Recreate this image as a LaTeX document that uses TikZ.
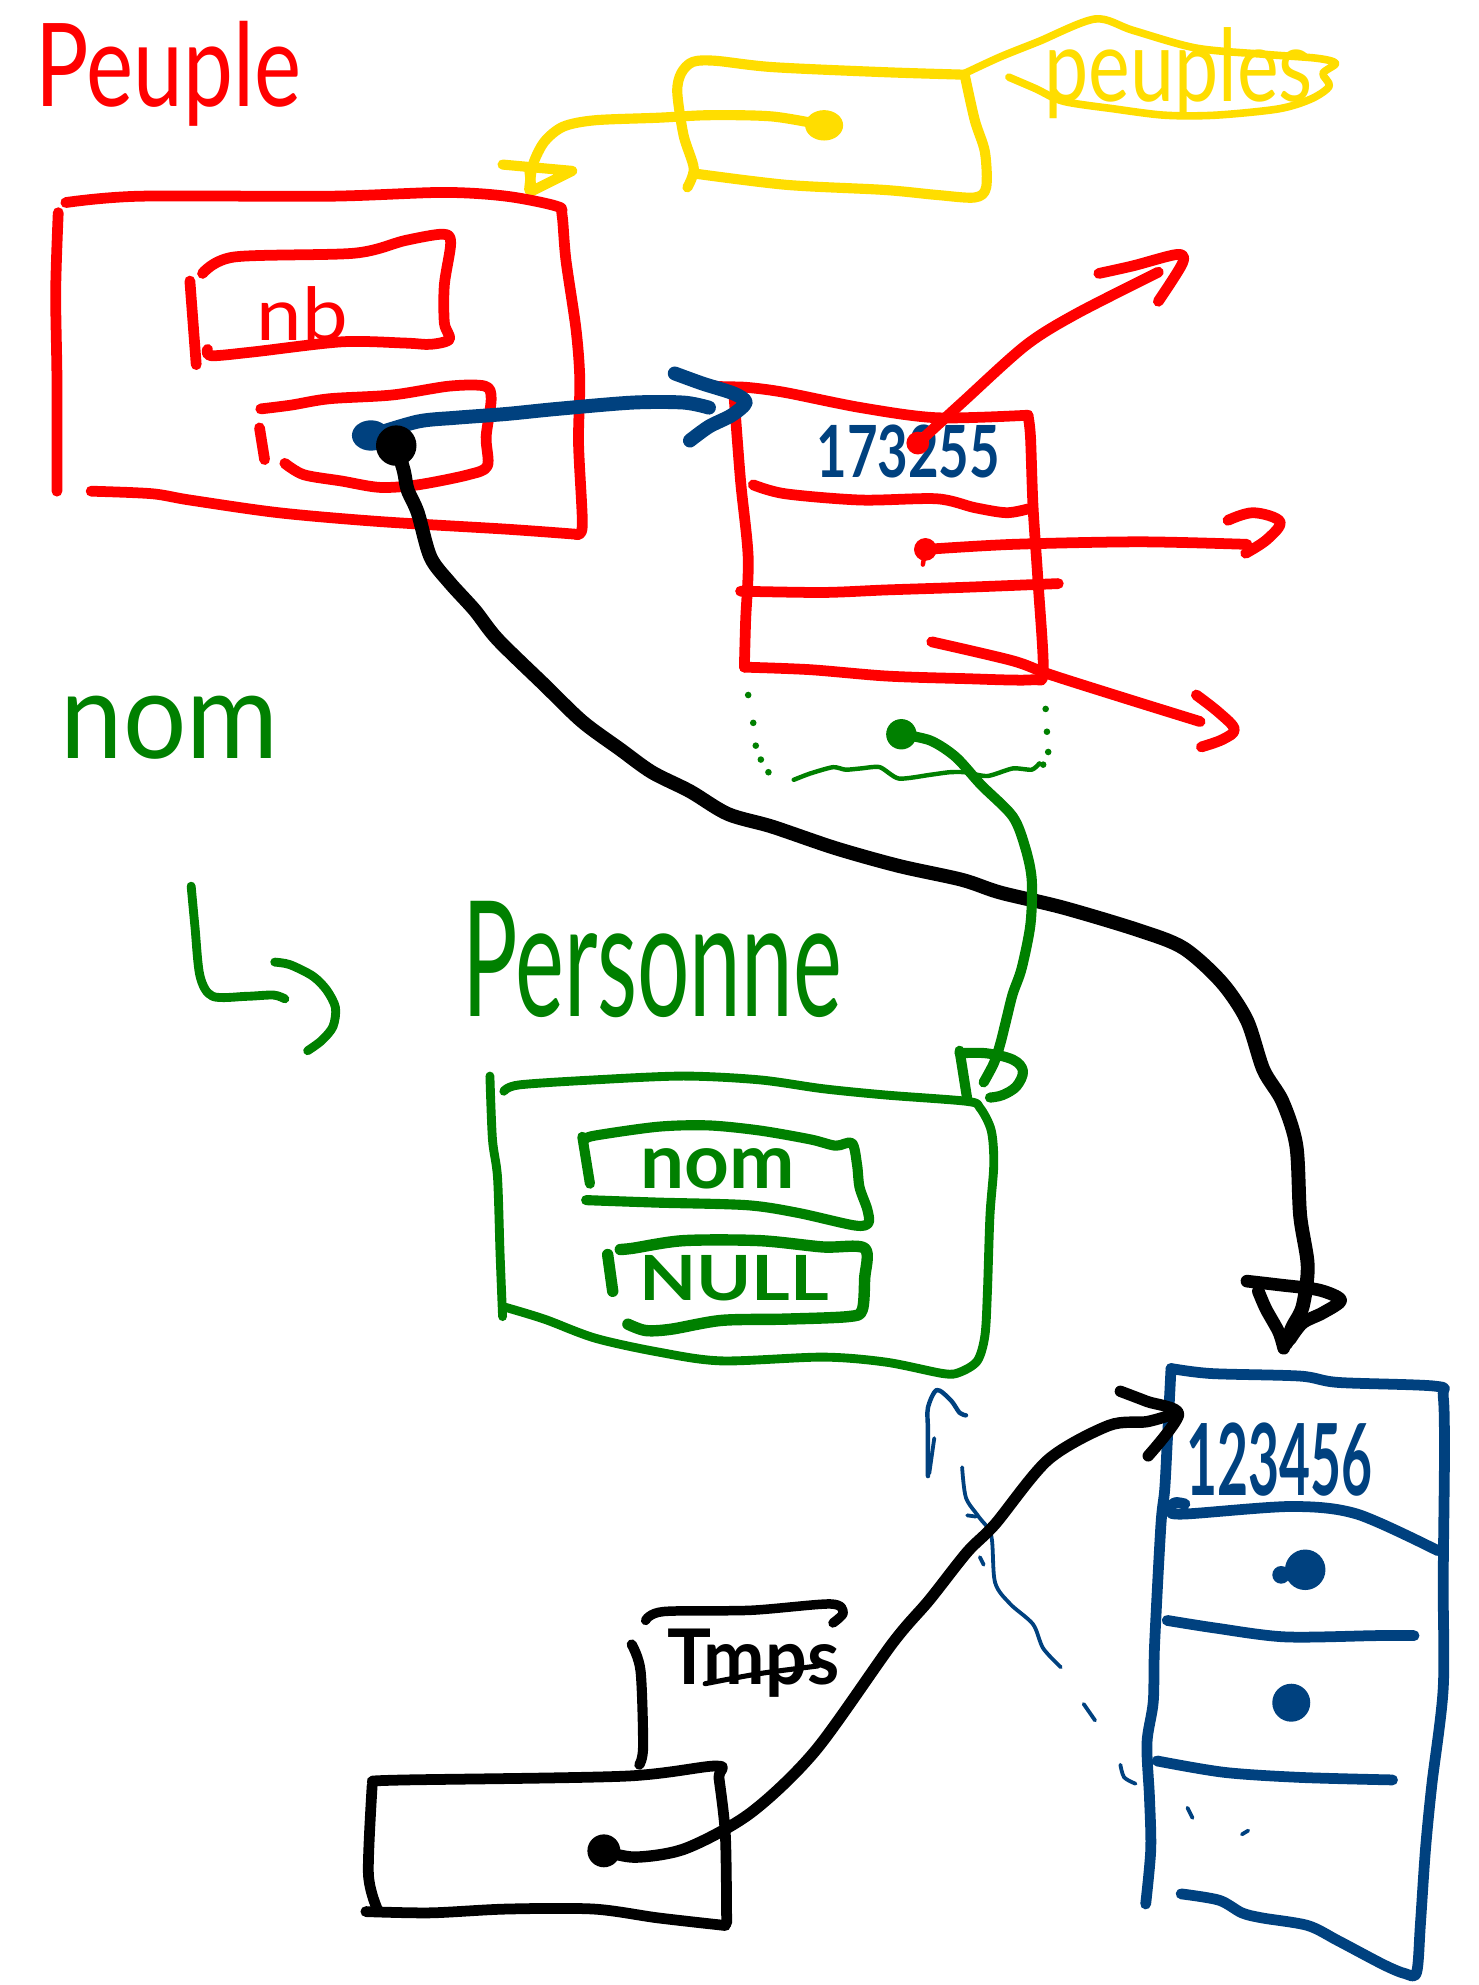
\documentclass[tikz,border=0pt]{standalone}
\usepackage{fontspec}
\setmainfont{Lato}
\usepackage{graphicx}
\definecolor{inkred}{HTML}{FF0000}
\definecolor{inkyellow}{HTML}{FFDD00}
\definecolor{inkgreen}{HTML}{008000}
\definecolor{inkblue}{HTML}{00417F}
\tikzset{
  pen/.style={line cap=round, line join=round},
  redpen/.style={pen, draw=inkred, line width=8.5pt},
  yellowpen/.style={pen, draw=inkyellow, line width=8pt},
  greenpen/.style={pen, draw=inkgreen, line width=7pt},
  bluepen/.style={pen, draw=inkblue, line width=8.5pt},
  thinblue/.style={pen, draw=inkblue, line width=3pt},
  blackpen/.style={pen, draw=black, line width=11pt},
  handword/.style={inner sep=0pt, outer sep=0pt, anchor=north west},
}
% scale a word into a given width and total height
\newcommand{\handfit}[3]{\resizebox*{#1}{#2}{#3}}
\begin{document}
\begin{tikzpicture}[x=1pt,y=-1pt]
\useasboundingbox[fill=white] (0,0) rectangle (1168,1568);

% ---------------- titles ----------------
\node[handword, text=inkred] (peupleTitle) at (28,17) {\handfit{210pt}{83pt}{Peuple}};
\node[handword, text=inkgreen] (nomTitle) at (48,550) {\handfit{172pt}{50pt}{nom}};
\node[handword, text=inkgreen] (personneTitle) at (365,712) {\handfit{300pt}{92pt}{Personne}};

% ---------------- yellow variable "peuples" ----------------
\draw[yellowpen] plot[smooth, tension=.5] coordinates {(543,148) (548,133) (540,107) (535,73) (538,58) (547,49) (565,48) (610,53) (698,57) (762,59)};
\draw[yellowpen] plot[smooth, tension=.5] coordinates {(762,59) (770,95) (778,120) (779,148) (770,156) (740,154) (698,150) (621,146) (548,137)};
\coordinate (yDot) at (651,99);
\fill[inkyellow] (yDot) ellipse (15 and 12);
\draw[yellowpen] plot[smooth, tension=.5] coordinates {(yDot) (610,92) (560,91) (520,93) (470,95) (445,100) (430,112) (421,130) (418,150)};
\draw[yellowpen] (397,130) -- (452,135) -- (420,151) -- (418,133);
% banner around the name
\draw[yellowpen, line width=6pt] plot[smooth, tension=.5] coordinates {(762,58) (790,45) (820,33) (865,15) (895,24) (945,38) (1000,43) (1040,46) (1055,50) (1045,58) (1050,68) (1036,78) (1010,86) (960,91) (920,91) (880,86) (840,80) (818,70) (797,61)};
\node[handword, text=inkyellow] (peuplesLabel) at (825,22) {\handfit{212pt}{72pt}{peuples}};

% ---------------- red structure Peuple ----------------
\draw[redpen] plot[smooth, tension=.5] coordinates {(45,388) (45,300) (44,230) (46,168)};
\draw[redpen] plot[smooth, tension=.5] coordinates {(52,160) (110,155) (260,155) (350,152) (400,155) (440,163) (444,170) (447,205) (455,260) (458,300) (457,350) (460,415) (455,422)};
\draw[redpen] plot[smooth, tension=.5] coordinates {(72,388) (120,390) (150,395) (220,405) (300,412) (400,418) (455,422)};
% field nb
\draw[redpen] (150,222) -- (155,288);
\draw[redpen] plot[smooth, tension=.5] coordinates {(160,216) (185,203) (280,200) (320,190) (350,185) (356,192) (351,225) (351,255) (355,268) (340,272) (320,271) (270,270) (200,278) (167,281) (164,276)};
\node[handword, text=inkred] (nbLabel) at (203,226) {\handfit{72pt}{43pt}{nb}};
% field pointing to the array
\draw[redpen] (205,338) -- (209,363);
\draw[redpen] plot[smooth, tension=.5] coordinates {(206,323) (230,320) (260,315) (310,312) (355,305) (383,305) (388,315) (384,345) (385,368) (370,375) (330,383) (300,385) (270,380) (240,375) (225,366)};

% ---------------- red array ----------------
\draw[redpen] plot[smooth, tension=.5] coordinates {(545,300) (565,305) (590,306) (620,310) (680,322) (740,330) (812,328)};
\draw[redpen] plot[smooth, tension=.5] coordinates {(812,328) (814,345) (816,400) (820,460) (824,530) (815,537) (760,536) (700,534) (640,529) (588,527)};
\draw[redpen] plot[smooth, tension=.5] coordinates {(580,315) (585,380) (591,440) (589,490) (588,527)};
\draw[redpen] plot[smooth, tension=.5] coordinates {(595,383) (620,390) (680,395) (740,394) (770,401) (795,405) (812,402)};
\draw[redpen] plot[smooth, tension=.5] coordinates {(585,467) (650,468) (700,466) (760,464) (836,461)};
\node[handword, text=inkblue] (addrA) at (645,336) {\handfit{145pt}{42pt}{\bfseries 173255}};
% outgoing pointers
\coordinate (rDotA) at (725,350);
\coordinate (rDotB) at (731,434);
\coordinate (rDotC) at (736,507);
\fill[inkred] (rDotA) circle (9);
\fill[inkred] (rDotB) circle (9);
\draw[redpen, line width=3.5pt] (rDotB) -- (729,446);
\draw[redpen] plot[smooth, tension=.5] coordinates {(rDotA) (760,318) (810,273) (850,248) (915,215)};
\draw[redpen] plot[smooth, tension=.5] coordinates {(868,216) (895,210) (930,201) (934,208) (915,238)};
\draw[redpen] plot[smooth, tension=.5] coordinates {(rDotB) (800,430) (900,428) (985,430)};
\draw[redpen] plot[smooth, tension=.6] coordinates {(970,411) (990,405) (1011,412) (1001,426) (984,437)};
\draw[redpen] plot[smooth, tension=.5] coordinates {(rDotC) (800,522) (830,533) (890,552) (948,570)};
\draw[redpen] plot[smooth, tension=.6] coordinates {(945,549) (963,563) (975,576) (966,584) (949,590)};

% ---------------- blue pointer into the red array ----------------
\coordinate (bDot) at (293,344);
\fill[inkblue] (bDot) ellipse (15 and 12);
\draw[bluepen, line width=11pt] plot[smooth, tension=.5] coordinates {(bDot) (330,333) (360,330) (400,327) (440,323) (500,318) (540,318) (560,322)};
\draw[bluepen, line width=11pt] plot[smooth, tension=.5] coordinates {(533,295) (555,303) (580,311) (589,318) (578,328) (560,337) (545,348)};

% ---------------- black pointer to the blue array ----------------
\coordinate (kDot) at (313,352);
\fill (kDot) circle (16);
\draw[blackpen] plot[smooth, tension=.5] coordinates {(kDot) (319,372) (322,387) (330,405) (340,440) (355,460) (375,482) (393,505) (430,541) (460,570) (490,592) (515,610) (545,625) (575,643) (610,653) (660,670) (710,684) (760,695) (790,705) (840,717) (900,735) (935,749) (965,776) (985,806) (998,845) (1013,870) (1024,905) (1027,960) (1033,1000) (1029,1032) (1021,1048) (1016,1061)};
\draw[blackpen, line width=10pt] plot[smooth, tension=.5] coordinates {(985,1012) (1011,1015) (1042,1019) (1059,1027) (1045,1037) (1029,1045) (1019,1058)};
\draw[blackpen, line width=10pt] plot[smooth, tension=.5] coordinates {(994,1020) (1000,1034) (1010,1052) (1014,1065)};

% ---------------- green dotted region and pointer ----------------
\foreach \p in {(591,549),(595,571),(597,589),(601,600),(607,610),(826,560),(827,578),(828,594),(824,604)}
  \fill[inkgreen] \p circle (2.6);
\draw[pen, draw=inkgreen, line width=3.5pt] plot[smooth, tension=.4] coordinates {(627,616) (640,611) (658,606) (668,608) (680,607) (695,606) (710,615) (735,612) (750,610) (762,610) (780,613) (800,607) (815,608) (821,603)};
\coordinate (gDot) at (712,580);
\fill[inkgreen] (gDot) circle (12);
\draw[greenpen, line width=8pt] plot[smooth, tension=.5] coordinates {(gDot) (735,585) (755,598) (775,620) (800,645) (810,670) (815,695) (814,730) (807,765) (800,785) (795,805) (790,825) (785,840) (777,855)};
\draw[greenpen, line width=8pt] (758,830) -- (764,868);
\draw[greenpen, line width=8pt] plot[smooth, tension=.6] coordinates {(758,832) (779,832) (800,837) (808,846) (803,858) (792,865) (782,867)};

% ---------------- green bent arrow ----------------
\draw[greenpen] plot[smooth, tension=.5] coordinates {(151,700) (154,732) (158,771) (168,787) (195,787) (216,786) (225,789)};
\draw[greenpen] plot[smooth, tension=.5] coordinates {(217,760) (229,762) (247,771) (258,782) (265,796) (263,811) (254,822) (243,830)};

% ---------------- green structure Personne ----------------
\draw[greenpen] plot[smooth, tension=.5] coordinates {(387,850) (389,900) (393,930) (395,990) (397,1040)};
\draw[greenpen] plot[smooth, tension=.5] coordinates {(398,862) (410,857) (470,853) (540,850) (600,853) (650,860) (700,865) (764,870) (774,875) (783,893) (785,920) (782,960) (780,1020) (778,1055) (772,1075) (758,1084) (745,1085) (700,1076) (650,1072) (570,1075) (520,1068) (470,1057) (430,1042) (397,1032)};
\draw[greenpen, line width=8pt] (460,898) -- (466,935);
\draw[greenpen, line width=8pt] plot[smooth, tension=.5] coordinates {(462,900) (470,897) (520,890) (560,889) (600,893) (640,900) (660,905) (673,903) (677,920) (679,938) (685,955) (686,966) (675,968) (630,958) (590,952) (520,950) (463,948)};
\node[handword, text=inkgreen] (nomField) at (506,907) {\handfit{122pt}{32pt}{\bfseries nom}};
\draw[greenpen, line width=9pt] (480,991) -- (484,1020);
\draw[greenpen, line width=9pt] plot[smooth, tension=.5] coordinates {(490,987) (500,986) (540,980) (600,980) (650,985) (683,986) (683,1010) (681,1035) (670,1040) (620,1042) (570,1043) (530,1050) (510,1051) (496,1046)};
\node[handword, text=inkgreen] (nullField) at (505,992) {\handfit{150pt}{36pt}{\bfseries NULL}};

% ---------------- faint blue strokes ----------------
\draw[thinblue, line width=3.5pt] plot[smooth, tension=.5] coordinates {(733,1166) (733,1130) (733,1112) (740,1098) (751,1106) (758,1116) (763,1118)};
\draw[thinblue] (738,1136) -- (734,1164);
\draw[thinblue] plot[smooth, tension=.5] coordinates {(760,1159) (763,1183) (773,1198) (783,1213) (786,1250) (798,1267) (816,1283) (824,1302) (838,1317)};
\draw[thinblue] (764,1197) -- (771,1198);
\draw[thinblue] (774,1230) -- (777,1236);
\draw[thinblue] (856,1346) -- (865,1359);
\draw[thinblue] plot[smooth] coordinates {(885,1394) (888,1404) (897,1409)};
\draw[thinblue] (938,1428) -- (942,1436);
\draw[thinblue] (981,1449) -- (986,1446);

% ---------------- blue array ----------------
\draw[bluepen] plot[smooth, tension=.5] coordinates {(925,1081) (922,1140) (920,1177) (917,1205) (912,1300) (911,1344) (906,1377) (908,1420) (909,1461) (905,1504)};
\draw[bluepen] plot[smooth, tension=.5] coordinates {(925,1081) (957,1085) (1027,1087) (1057,1092) (1134,1095) (1140,1103) (1141,1149) (1140,1250) (1140,1334) (1131,1410) (1126,1461) (1122,1520) (1119,1558) (1110,1559) (1093,1552) (1057,1533) (1033,1521) (997,1515) (981,1511) (963,1501) (933,1496)};
\draw[bluepen] plot[smooth, tension=.5] coordinates {(936,1188) (928,1187) (924,1193) (935,1196) (1020,1190) (1072,1196) (1136,1225)};
\draw[bluepen] plot[smooth, tension=.5] coordinates {(922,1280) (960,1286) (1015,1293) (1087,1292) (1117,1292)};
\draw[bluepen] plot[smooth, tension=.5] coordinates {(914,1391) (967,1400) (1027,1404) (1100,1406)};
\node[handword, text=inkblue] (addrB) at (937,1124) {\handfit{147pt}{58pt}{\bfseries 123456}};
\fill[inkblue] (1031,1240) circle (16);
\fill[inkblue] (1012,1244) circle (7);
\fill[inkblue] (1020,1345) circle (15);

% ---------------- black variable Tmps ----------------
\draw[blackpen, line width=7.5pt] plot[smooth, tension=.5] coordinates {(510,1280) (524,1273) (593,1272) (656,1267) (666,1274) (658,1282)};
\node[handword, text=black] (tmpsLabel) at (527,1287) {\handfit{136pt}{54pt}{\bfseries Tmps}};
\draw[blackpen, line width=4pt] plot[smooth] coordinates {(557,1330) (600,1322) (646,1316)};
\draw[blackpen, line width=8pt] plot[smooth, tension=.5] coordinates {(499,1299) (506,1320) (508,1380) (505,1394)};
\draw[blackpen, line width=8.5pt] plot[smooth, tension=.5] coordinates {(294,1407) (321,1406) (494,1403) (566,1395) (568,1405) (573,1450) (574,1519)};
\draw[blackpen, line width=8.5pt] plot[smooth, tension=.5] coordinates {(289,1510) (340,1511) (400,1508) (469,1508) (520,1515) (573,1521)};
\draw[blackpen, line width=8.5pt] plot[smooth, tension=.5] coordinates {(294,1410) (291,1480) (298,1508)};
\coordinate (tDot) at (477,1462);
\fill (tDot) circle (13);
\draw[blackpen, line width=9pt] plot[smooth, tension=.5] coordinates {(tDot) (502,1467) (542,1460) (593,1432) (644,1383) (705,1298) (734,1264) (764,1226) (786,1204) (828,1153) (876,1126) (906,1123) (927,1117)};
\draw[blackpen, line width=9pt] plot[smooth, tension=.5] coordinates {(885,1099) (906,1107) (931,1117) (907,1150)};
\end{tikzpicture}
\end{document}
